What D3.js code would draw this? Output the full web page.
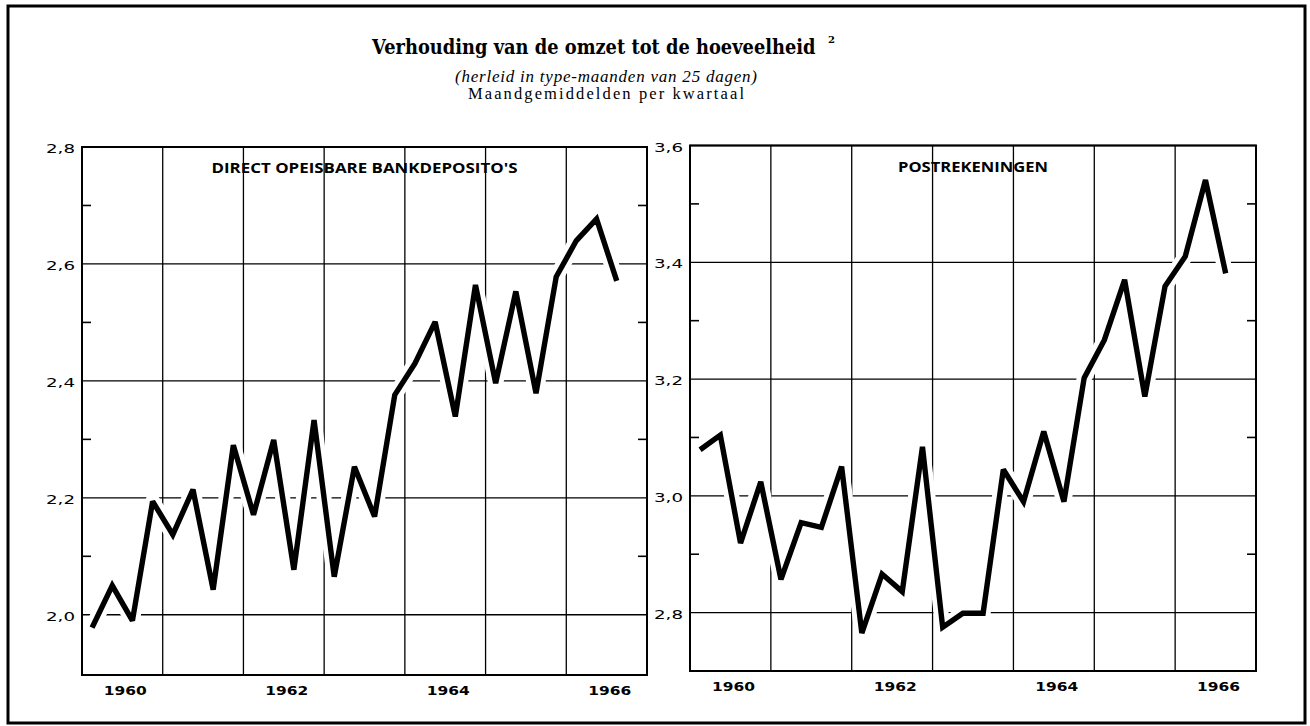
<!DOCTYPE html>
<html>
<head>
<meta charset="utf-8">
<script src="https://cdn.jsdelivr.net/npm/d3@7"></script>
<style>
  html, body { margin: 0; padding: 0; background: #fff; }
  svg { display: block; }
</style>
</head>
<body>
<script>
// Quarterly monthly averages, 1960 Q1 – 1966 Q3
const quarters = [
  "1960-1","1960-2","1960-3","1960-4",
  "1961-1","1961-2","1961-3","1961-4",
  "1962-1","1962-2","1962-3","1962-4",
  "1963-1","1963-2","1963-3","1963-4",
  "1964-1","1964-2","1964-3","1964-4",
  "1965-1","1965-2","1965-3","1965-4",
  "1966-1","1966-2","1966-3"
];

// Direct opeisbare bankdeposito's
const bankDeposits = [
  1.978, 2.050, 1.990, 2.194,
  2.137, 2.214, 2.043, 2.290,
  2.171, 2.299, 2.077, 2.333,
  2.065, 2.253, 2.168, 2.376,
  2.430, 2.501, 2.339, 2.564,
  2.396, 2.553, 2.379, 2.578,
  2.640, 2.677, 2.571
];

// Postrekeningen
const postAccounts = [
  3.079, 3.104, 2.919, 3.024,
  2.857, 2.954, 2.946, 3.050,
  2.765, 2.866, 2.836, 3.084,
  2.775, 2.799, 2.799, 3.045,
  2.990, 3.110, 2.990, 3.202,
  3.267, 3.370, 3.170, 3.359,
  3.410, 3.541, 3.381
];

const yearLabels = [1960, 1962, 1964, 1966];
const yearGrid = [1961, 1962, 1963, 1964, 1965, 1966];

const bankMajorTicks = [2.0, 2.2, 2.4, 2.6, 2.8];
const bankMinorTicks = [2.1, 2.3, 2.5, 2.7];
const postMajorTicks = [2.8, 3.0, 3.2, 3.4, 3.6];
const postMinorTicks = [2.9, 3.1, 3.3, 3.5];

const W = 1310, H = 726;
const svg = d3.select("body").append("svg")
  .attr("width", W).attr("height", H)
  .attr("viewBox", `0 0 ${W} ${H}`);

svg.append("rect").attr("width", W).attr("height", H).attr("fill", "#fff");

// outer frame
svg.append("rect")
  .attr("x", 8).attr("y", 6).attr("width", 1297).attr("height", 717)
  .attr("fill", "none").attr("stroke", "#000").attr("stroke-width", 3);

// headings: heavy serif title squeezed horizontally to a fixed width
const titleX = 372, titleW = 444;
const title = svg.append("text")
  .attr("font-family", "'DejaVu Serif', serif")
  .attr("font-weight", "bold").attr("font-size", 21)
  .text("Verhouding van de omzet tot de hoeveelheid");
const natural = title.node().getComputedTextLength();
title.attr("transform", `translate(${titleX},54) scale(${titleW / natural},1)`);

svg.append("text")
  .attr("x", titleX + titleW + 12).attr("y", 43)
  .attr("font-family", "'DejaVu Serif', serif")
  .attr("font-weight", "bold").attr("font-size", 10)
  .text("2");

svg.append("text")
  .attr("x", 606).attr("y", 82)
  .attr("text-anchor", "middle")
  .attr("font-family", "'Liberation Serif', serif")
  .attr("font-style", "italic").attr("font-size", 17)
  .attr("textLength", 302).attr("lengthAdjust", "spacing")
  .text("(herleid in type-maanden van 25 dagen)");

svg.append("text")
  .attr("x", 606).attr("y", 99)
  .attr("text-anchor", "middle")
  .attr("font-family", "'Liberation Serif', serif")
  .attr("font-size", 16.5)
  .attr("textLength", 276).attr("lengthAdjust", "spacing")
  .text("Maandgemiddelden per kwartaal");

const quarterTime = q => {
  const [y, k] = q.split("-").map(Number);
  return y + (k - 0.5) / 4;
};
const fmt = v => d3.format(".1f")(v).replace(".", ",");

function panel(cfg) {
  const x = d3.scaleLinear().domain([1960, 1967]).range([cfg.x0, cfg.x1]);
  const y = d3.scaleLinear().domain(cfg.domain).range([cfg.yBot, cfg.yTop]);
  const g = svg.append("g");

  // grid
  g.append("g").selectAll("line").data(cfg.majors).join("line")
    .attr("x1", cfg.x0).attr("x2", cfg.x1)
    .attr("y1", d => y(d)).attr("y2", d => y(d))
    .attr("stroke", "#000").attr("stroke-width", 1.3);
  g.append("g").selectAll("line").data(yearGrid).join("line")
    .attr("x1", d => x(d)).attr("x2", d => x(d))
    .attr("y1", cfg.yTop).attr("y2", cfg.yBot)
    .attr("stroke", "#000").attr("stroke-width", 1.3);

  const pts = quarters.map((q, i) => [quarterTime(q), cfg.values[i]]);
  const line = d3.line().x(d => x(d[0])).y(d => y(d[1]));

  // white clearance around the curve, then the curve itself
  g.append("path").attr("d", line(pts))
    .attr("fill", "none").attr("stroke", "#fff")
    .attr("stroke-width", 15).attr("stroke-linejoin", "round");
  g.append("path").attr("d", line(pts))
    .attr("fill", "none").attr("stroke", "#000")
    .attr("stroke-width", 5.4)
    .attr("stroke-linejoin", "miter").attr("stroke-miterlimit", 2.6);

  // panel frame
  g.append("rect")
    .attr("x", cfg.x0).attr("y", cfg.yTop)
    .attr("width", cfg.x1 - cfg.x0).attr("height", cfg.yBot - cfg.yTop)
    .attr("fill", "none").attr("stroke", "#000").attr("stroke-width", 2);

  // minor ticks, inside on both sides
  const mt = g.append("g");
  mt.selectAll("line.l").data(cfg.minors).join("line").attr("class", "l")
    .attr("x1", cfg.x0).attr("x2", cfg.x0 + 9)
    .attr("y1", d => y(d)).attr("y2", d => y(d))
    .attr("stroke", "#000").attr("stroke-width", 1.6);
  mt.selectAll("line.r").data(cfg.minors).join("line").attr("class", "r")
    .attr("x1", cfg.x1 - 9).attr("x2", cfg.x1)
    .attr("y1", d => y(d)).attr("y2", d => y(d))
    .attr("stroke", "#000").attr("stroke-width", 1.6);

  // y labels
  g.append("g").selectAll("text").data(cfg.majors).join("text")
    .attr("x", cfg.x0 - 7).attr("y", d => y(d) + 6)
    .attr("text-anchor", "end")
    .attr("font-family", "'DejaVu Sans', sans-serif")
    .attr("font-size", 12.5)
    .attr("textLength", 29).attr("lengthAdjust", "spacingAndGlyphs")
    .text(fmt);

  // x labels at mid-year
  g.append("g").selectAll("text").data(yearLabels).join("text")
    .attr("x", d => x(d + 0.5) + 3).attr("y", cfg.yBot + 20)
    .attr("text-anchor", "middle")
    .attr("font-family", "'DejaVu Sans', sans-serif")
    .attr("font-weight", "bold").attr("font-size", 11.5)
    .attr("textLength", 43).attr("lengthAdjust", "spacingAndGlyphs")
    .text(d => d);

  // panel heading
  g.append("text")
    .attr("x", (cfg.x0 + cfg.x1) / 2).attr("y", cfg.yTop + 26)
    .attr("text-anchor", "middle")
    .attr("font-family", "'Open Sans', 'DejaVu Sans', sans-serif")
    .attr("font-weight", 700).attr("font-size", 15)
    .attr("textLength", cfg.titleLen).attr("lengthAdjust", "spacingAndGlyphs")
    .text(cfg.title);
}

panel({
  x0: 82, x1: 647, yTop: 147, yBot: 675,
  domain: [1.897, 2.8],
  majors: bankMajorTicks, minors: bankMinorTicks,
  values: bankDeposits,
  title: "DIRECT OPEISBARE BANKDEPOSITO'S", titleLen: 306
});

panel({
  x0: 690, x1: 1256, yTop: 145.5, yBot: 671,
  domain: [2.7, 3.6],
  majors: postMajorTicks, minors: postMinorTicks,
  values: postAccounts,
  title: "POSTREKENINGEN", titleLen: 150
});
</script>
</body>
</html>
